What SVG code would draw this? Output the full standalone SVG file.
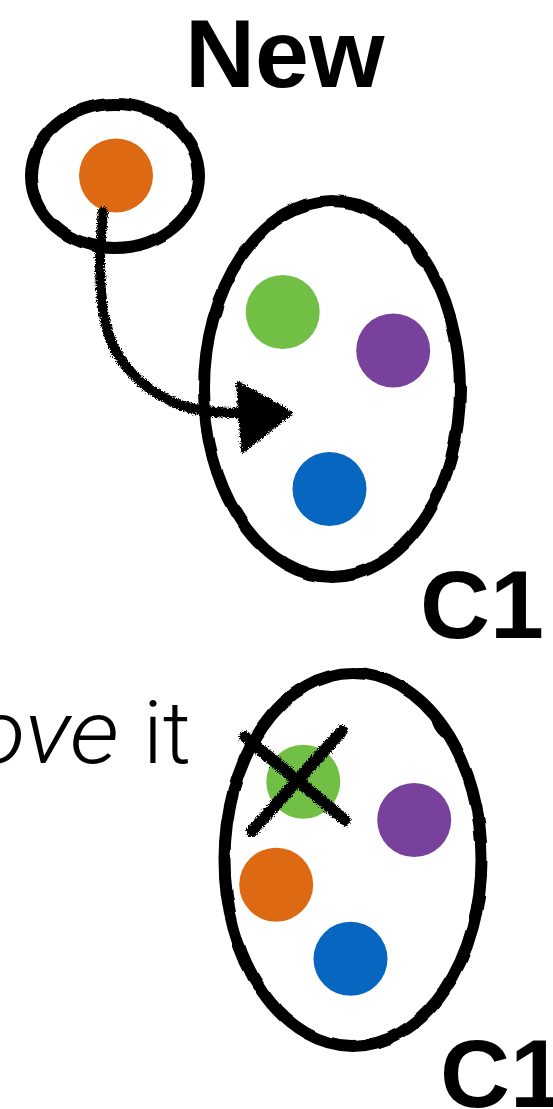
<svg xmlns="http://www.w3.org/2000/svg" width="553" height="1109" viewBox="0 0 553 1109">
  <style>
    .ring { fill: none; stroke: #000; stroke-width: 12; }
    .blob { fill: #000; }
    .bold { font-family: "Liberation Sans", Arial, sans-serif; font-weight: 700; fill: #000; }
    .light { font-family: "Roboto", "Liberation Sans", sans-serif; font-weight: 300; fill: #000; }
    .orange { fill: #DD6A12; }
    .green { fill: #71BF44; }
    .purple { fill: #78419B; }
    .blue { fill: #0666C0; }
    .rough { fill: none; stroke: #000; stroke-linecap: round; }
  </style>
  <defs>
    <filter id="rough" x="-20%" y="-20%" width="140%" height="140%">
      <feTurbulence type="fractalNoise" baseFrequency="1.2" numOctaves="2" seed="3" result="n"/>
      <feDisplacementMap in="SourceGraphic" in2="n" scale="6" xChannelSelector="R" yChannelSelector="G"/>
    </filter>
    <filter id="wobble" x="-5%" y="-5%" width="110%" height="110%">
      <feTurbulence type="fractalNoise" baseFrequency="0.04" numOctaves="1" seed="7" result="w"/>
      <feDisplacementMap in="SourceGraphic" in2="w" scale="4" xChannelSelector="R" yChannelSelector="G"/>
    </filter>
  </defs>
  <rect width="553" height="1109" fill="#fff"/>

  <g id="label-new">
    <text class="bold" x="185" y="87" font-size="97">New</text>
  </g>

  <g id="new-point">
    <g filter="url(#wobble)">
      <ellipse class="ring" cx="115" cy="176" rx="84" ry="72"/>
      <ellipse class="blob" cx="175" cy="123" rx="6" ry="13" transform="rotate(-45 175 123)"/>
    </g>
    <circle class="orange" cx="116" cy="175.5" r="37"/>
  </g>

  <g id="cluster-c1-top">
    <g filter="url(#wobble)">
      <ellipse class="ring" cx="332" cy="389" rx="128" ry="188"/>
      <ellipse class="blob" cx="419" cy="256" rx="6" ry="15" transform="rotate(-30 419 256)"/>
    </g>
    <circle class="green" cx="282.7" cy="312" r="37"/>
    <circle class="purple" cx="393.2" cy="350.5" r="37"/>
    <circle class="blue" cx="329.5" cy="489" r="37"/>
    <text class="bold" x="420" y="638" font-size="97">C1</text>
  </g>

  <g id="connectors">
    <g filter="url(#rough)">
      <path class="rough" stroke-width="10" d="M103,212 C99,250 98,290 106,325 C114,360 140,388 175,403 C195,411 215,413 242,413"/>
      <polygon points="238,383 291,413 243,451" fill="#000" stroke="#000" stroke-width="4" stroke-linejoin="round"/>
    </g>
  </g>

  <g id="label-remove">
    <text class="light" y="763" font-size="88"><tspan x="-28" font-style="italic" textLength="147" lengthAdjust="spacingAndGlyphs">ove</tspan><tspan x="143">it</tspan></text>
  </g>

  <g id="cluster-c1-bottom">
    <g filter="url(#wobble)">
      <ellipse class="ring" cx="353" cy="859.5" rx="128.5" ry="186.5"/>
      <ellipse class="blob" cx="440" cy="726" rx="6" ry="14" transform="rotate(-30 440 726)"/>
    </g>
    <circle class="green" cx="303.3" cy="781.7" r="37"/>
    <circle class="purple" cx="414.2" cy="820" r="37"/>
    <circle class="orange" cx="276.2" cy="884.7" r="37"/>
    <circle class="blue" cx="350.5" cy="958.8" r="37"/>
    <text class="bold" x="440" y="1107" font-size="97">C1</text>
  </g>

  <g id="remove-mark" filter="url(#rough)">
    <path class="rough" stroke-width="12" d="M245,737 L345,820"/>
    <path class="rough" stroke-width="12" d="M342,731 L252,831"/>
  </g>
</svg>
